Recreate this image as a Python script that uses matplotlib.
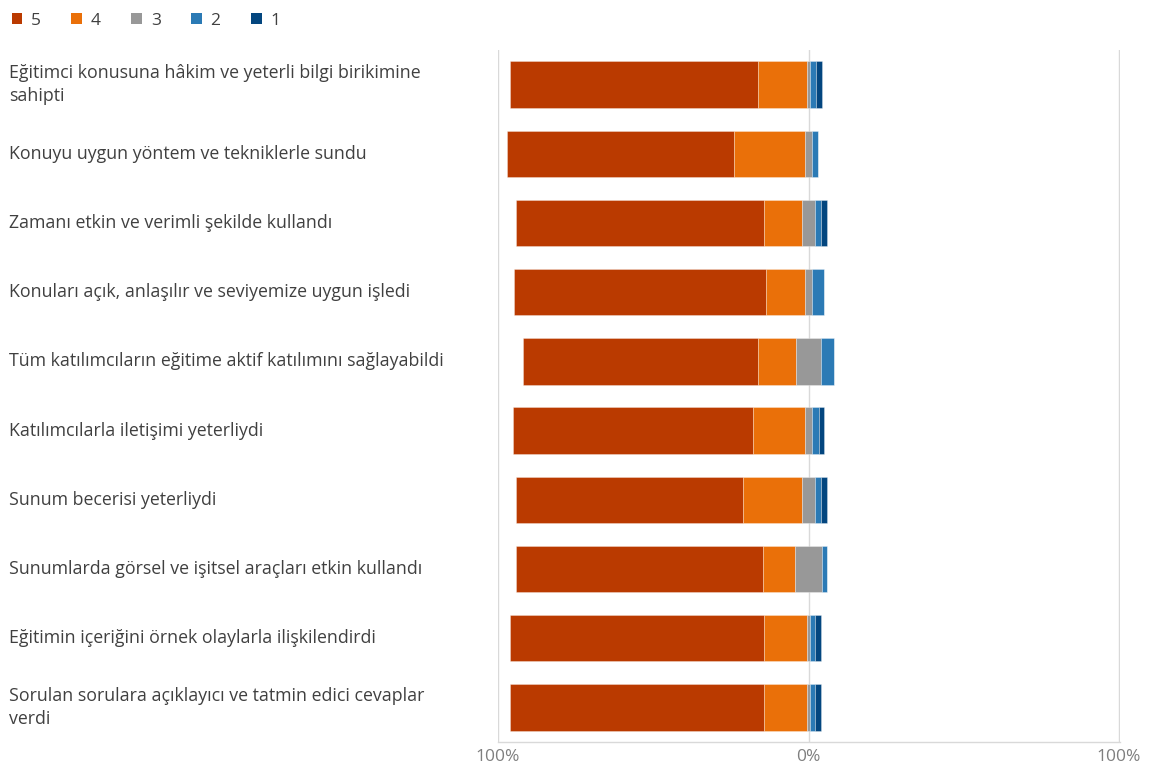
import matplotlib
matplotlib.use("Agg")
import matplotlib.pyplot as plt
import matplotlib.transforms as mtransforms
from matplotlib.patches import Patch
import numpy as np

plt.rcParams['font.family'] = ['Open Sans', 'DejaVu Sans']

categories = [
    "Eğitimci konusuna hâkim ve yeterli bilgi birikimine\nsahipti",
    "Konuyu uygun yöntem ve tekniklerle sundu",
    "Zamanı etkin ve verimli şekilde kullandı",
    "Konuları açık, anlaşılır ve seviyemize uygun işledi",
    "Tüm katılımcıların eğitime aktif katılımını sağlayabildi",
    "Katılımcılarla iletişimi yeterliydi",
    "Sunum becerisi yeterliydi",
    "Sunumlarda görsel ve işitsel araçları etkin kullandı",
    "Eğitimin içeriğini örnek olaylarla ilişkilendirdi",
    "Sorulan sorulara açıklayıcı ve tatmin edici cevaplar\nverdi",
]
s5 = [79.6, 72.9, 79.9, 81.3, 75.6, 77.4, 73.2, 79.3, 81.7, 81.7]
s4 = [15.9, 23.1, 12.3, 12.6, 12.3, 16.7, 19.0, 10.6, 13.9, 13.9]
s3 = [1.0, 2.1, 4.0, 2.2, 8.2, 2.1, 4.0, 8.4, 0.8, 0.8]
s2 = [1.8, 2.1, 1.9, 4.0, 4.0, 2.4, 1.9, 1.8, 1.8, 1.8]
s1 = [1.9, 0.0, 2.0, 0.0, 0.0, 1.5, 2.0, 0.0, 1.9, 1.9]
series_names = ["5", "4", "3", "2", "1"]
colors = ["#BA3A00", "#EA7009", "#989898", "#2B7AB5", "#03467F"]
xticks = [-100, 0, 100]
xtick_labels = ["100%", "0%", "100%"]

W, H = 1149, 771
fig = plt.figure(figsize=(W / 100, H / 100), dpi=100)
ax = fig.add_axes([498 / W, 1 - 742 / H, (1120 - 498) / W, (742 - 50) / H])

a5, a4, a3, a2, a1 = (np.array(v, dtype=float) for v in (s5, s4, s3, s2, s1))
y = np.arange(len(categories))
left5 = -(a5 + a4 + a3 / 2)
left4 = left5 + a5
left3 = -a3 / 2
left2 = a3 / 2
left1 = left2 + a2
h = 0.67
for vals, lefts, c in zip((a5, a4, a3, a2, a1), (left5, left4, left3, left2, left1), colors):
    ax.barh(y, vals, left=lefts, height=h, color=c, edgecolor=(1, 1, 1, 0.35), linewidth=0.6, zorder=3)

ax.set_ylim(len(categories) - 0.5, -0.5)
ax.set_xlim(-99.7, 100.3)
ax.set_xticks(xticks)
ax.set_xticklabels(xtick_labels, fontsize=12.5, color="#7F7F7F")
ax.tick_params(axis="x", length=0, pad=5)
ax.set_yticks([])
for x in xticks:
    ax.axvline(x, color="#D9D9D9", lw=1.0, zorder=1)
for sp in ("top", "right", "left"):
    ax.spines[sp].set_visible(False)
ax.spines["bottom"].set_color("#D9D9D9")
ax.spines["bottom"].set_linewidth(1.0)

trans = mtransforms.blended_transform_factory(fig.transFigure, ax.transData)
for yi, lab in zip(y, categories):
    ax.text(9 / W, yi, lab, transform=trans, ha="left", va="center",
            fontsize=12.8, color="#404040", linespacing=1.38)

handles = [Patch(facecolor=c, edgecolor="none") for c in colors]
fig.legend(handles, series_names, loc="upper left", bbox_to_anchor=(-4 / W, 1 + 3 / H),
           ncol=5, frameon=False, fontsize=12.5, handlelength=0.62, handleheight=0.62,
           handletextpad=0.5, columnspacing=1.75, labelcolor="#404040")

fig.savefig("out.png", dpi=100)
